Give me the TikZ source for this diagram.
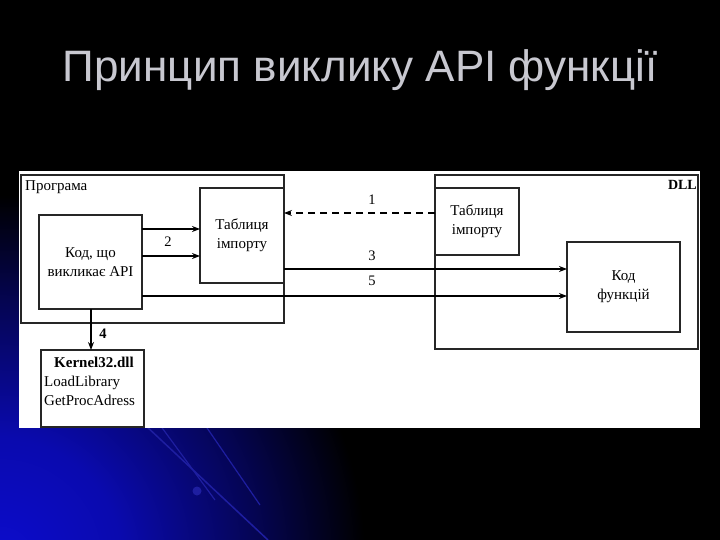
\documentclass[tikz,border=0pt]{standalone}
\usepackage{fontspec}
\setmainfont{Liberation Serif}
\newfontfamily\titlefont{Liberation Sans}
\usetikzlibrary{arrows.meta,calc}
\definecolor{titlegray}{RGB}{200,200,208}
\definecolor{deepblue}{RGB}{12,12,205}
\definecolor{lineblue}{RGB}{30,30,160}
\pgfdeclareradialshading{bgsh}{\pgfpoint{0bp}{0bp}}{color(0bp)=(deepblue); color(8bp)=(deepblue!85!black); color(17bp)=(deepblue!40!black); color(24bp)=(black); color(50bp)=(black)}
\tikzset{
  box/.style={draw=black!85, line width=1.4pt, inner sep=0pt, outer sep=0pt, anchor=north west},
  txt/.style={font=\fontsize{15}{19}\selectfont, align=center, inner sep=0pt},
  arr/.style={line width=1.4pt, -{Stealth[length=8pt,width=6pt]}},
  num/.style={font=\fontsize{14.5}{17}\selectfont, inner sep=0pt}
}
\begin{document}
\begin{tikzpicture}[x=1pt,y=-1pt]
\useasboundingbox (0,0) rectangle (720,540);
% background
\fill[black] (0,0) rectangle (720,540);
\begin{scope}
\clip (0,0) rectangle (720,540);
\shade[shading=bgsh] (0,560) circle (380);
\draw[lineblue, line width=1.5pt] (145,425) -- (268,540);
\draw[lineblue, line width=1.2pt] (160,425) -- (215,500);
\draw[lineblue, line width=1.2pt] (205,425) -- (260,505);
\fill[lineblue] (197,491) circle (4.5);
\end{scope}
% title
\node[font=\titlefont\fontsize{44}{48}\selectfont, text=titlegray, inner sep=0pt] (title) at (360,70) {Принцип виклику API функції};
% white panel
\fill[white] (19,171) rectangle (700,428);
% boxes
\node[box, minimum width=263, minimum height=148] (prog) at (21,175) {};
\node[box, minimum width=263, minimum height=174] (dll) at (435,175) {};
\node[box, minimum width=103, minimum height=94] (kod) at (39,215) {};
\node[box, minimum width=84, minimum height=95] (tab1) at (200,188) {};
\node[box, minimum width=84, minimum height=67] (tab2) at (435,188) {};
\node[box, minimum width=113, minimum height=90] (kodf) at (567,242) {};
\node[box, minimum width=103, minimum height=77] (kern) at (41,350) {};
% texts
\node[txt, anchor=base west] (lprog) at (25,191) {Програма};
\node[txt, anchor=base east, font=\fontsize{14}{16}\selectfont\bfseries] (ldll) at (697,190) {DLL};
\node[txt] (lkod) at (kod.center) {Код, що\\викликає API};
\node[txt] (ltab1) at (tab1.center) {Таблиця\\імпорту};
\node[txt] (ltab2) at (tab2.center) {Таблиця\\імпорту};
\node[txt] (lkodf) at (kodf.center) {Код\\функцій};
\node[txt, anchor=base] (lkern) at (94,367) {\textbf{Kernel32.dll}};
\node[txt, anchor=base west] (lload) at (44,386) {LoadLibrary};
\node[txt, anchor=base west] (lget) at (44,405) {GetProcAdress};
% connectors
\draw[arr] (kod.east |- 0,229) -- (tab1.west |- 0,229);
\draw[arr] (kod.east |- 0,256) -- (tab1.west |- 0,256);
\draw[arr, dash pattern=on 7pt off 5pt] (tab2.west |- 0,213) -- (tab1.east |- 0,213);
\draw[arr] (tab1.east |- 0,269) -- (kodf.west |- 0,269);
\draw[arr] (kod.east |- 0,296) -- (kodf.west |- 0,296);
\draw[arr] (kod.south -| 91,0) -- (kern.north -| 91,0);
% numbers
\node[num, anchor=base] (n1) at (372,205) {1};
\node[num, anchor=base] (n2) at (168,246) {2};
\node[num, anchor=base] (n3) at (372,260) {3};
\node[num, anchor=base] (n5) at (372,285) {5};
\node[num, anchor=base] (n4) at (103,338) {\textbf{4}};
\end{tikzpicture}
\end{document}
